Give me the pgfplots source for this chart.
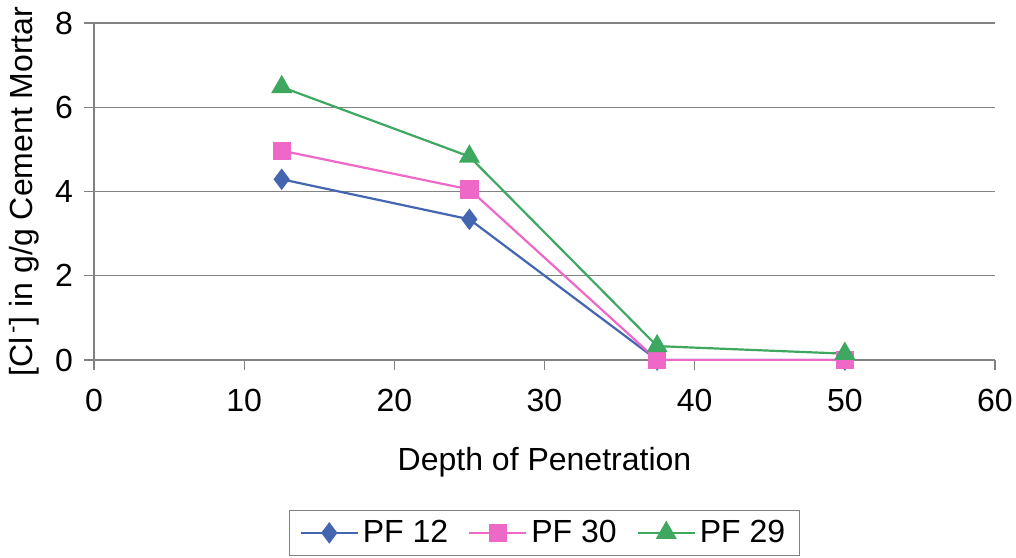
\documentclass[border=0pt]{standalone}
\usepackage{pgfplots}
\pgfplotsset{compat=1.18}
\usepackage{fontspec}
\setmainfont{Liberation Sans}

\definecolor{pfblue}{RGB}{68,102,176}
\definecolor{pfpink}{RGB}{238,104,200}
\definecolor{pfgreen}{RGB}{62,168,96}
\definecolor{gridgray}{RGB}{130,130,130}

\begin{document}
\begin{tikzpicture}
\useasboundingbox (-47pt,-98.5pt) rectangle (461pt,180pt);
\begin{axis}[
  at={(0,0)}, anchor=south west,
  scale only axis,
  width=450.5pt, height=168.5pt,
  xmin=0, xmax=60, ymin=0, ymax=8,
  xtick={0,10,...,60}, ytick={0,2,...,8},
  axis lines=left,
  axis line style={-, gridgray, line width=0.6pt},
  tick align=outside,
  major tick length=5pt,
  tick style={gridgray, line width=0.6pt},
  ymajorgrids,
  grid style={gridgray, line width=0.6pt},
  font=\fontsize{16}{19}\selectfont,
  /pgf/number format/assume math mode=true,
  xticklabel style={yshift=-6pt},
  yticklabel style={xshift=-2pt},
  xlabel={Depth of Penetration},
  ylabel={[Cl\textsuperscript{\,-}] in g/g Cement Mortar},
  xlabel style={at={(rel axis cs:0.5,0)}, anchor=center, yshift=-51pt},
  ylabel style={at={(rel axis cs:0,0.5)}, anchor=center, yshift=35pt},
  legend columns=3,
  legend style={at={(rel axis cs:0.5,-0.513)}, anchor=center,
    draw=gridgray, line width=0.6pt, inner xsep=5pt, inner ysep=3pt,
    font=\fontsize{16}{19}\selectfont,
    /tikz/every even column/.append style={column sep=8pt}},
  legend image code/.code={%
    \draw[mark repeat=2, mark phase=2] plot coordinates {(0cm,0cm) (0.5cm,0cm) (1cm,0cm)};},
]
\addplot[pfblue, line width=1.1pt, mark=diamond*, mark size=4.5pt,
  mark options={fill=pfblue, draw=pfblue}]
  coordinates {(12.5,4.29) (25,3.34) (37.5,0.0) (50,0.0)};
\addlegendentry{PF 12}
\addplot[pfpink, line width=1.1pt, mark=square*, mark size=4pt,
  mark options={fill=pfpink, draw=pfpink}]
  coordinates {(12.5,4.97) (25,4.05) (37.5,0.0) (50,0.0)};
\addlegendentry{PF 30}
\addplot[pfgreen, line width=1.1pt, mark=triangle*, mark size=5pt,
  mark options={fill=pfgreen, draw=pfgreen}]
  coordinates {(12.5,6.48) (25,4.83) (37.5,0.33) (50,0.15)};
\addlegendentry{PF 29}
\end{axis}
\end{tikzpicture}
\end{document}
